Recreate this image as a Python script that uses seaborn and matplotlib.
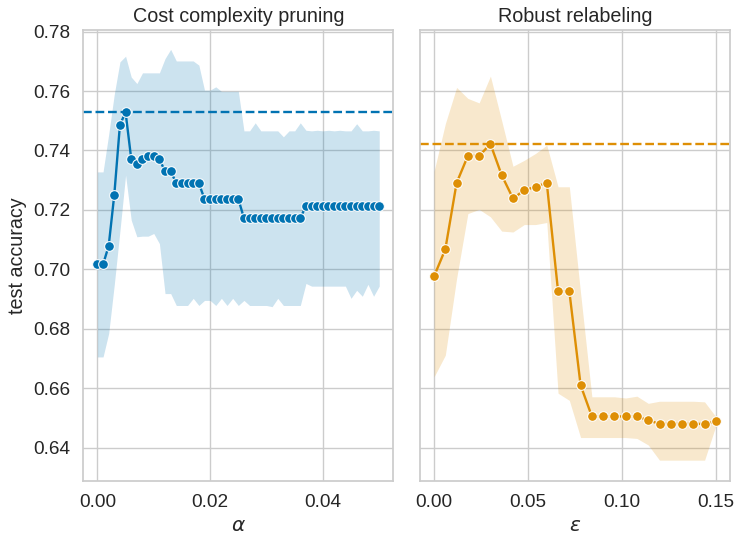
import matplotlib
matplotlib.use("Agg")
import matplotlib.pyplot as plt
import seaborn as sns

sns.set_theme(style="whitegrid", context="notebook", font_scale=1.15, palette="colorblind")
plt.rcParams['font.family'] = ['Liberation Sans', 'DejaVu Sans']
plt.rcParams['xtick.labelsize'] = 13.7
plt.rcParams['ytick.labelsize'] = 13.7

# cost complexity pruning (alpha grid)
alpha = [0.000, 0.001, 0.002, 0.003, 0.004, 0.005, 0.006, 0.007, 0.008, 0.009,
         0.010, 0.011, 0.012, 0.013, 0.014, 0.015, 0.016, 0.017, 0.018, 0.019,
         0.020, 0.021, 0.022, 0.023, 0.024, 0.025, 0.026, 0.027, 0.028, 0.029,
         0.030, 0.031, 0.032, 0.033, 0.034, 0.035, 0.036, 0.037, 0.038, 0.039,
         0.040, 0.041, 0.042, 0.043, 0.044, 0.045, 0.046, 0.047, 0.048, 0.049,
         0.050]
ccp_acc = [0.7017, 0.7017, 0.7079, 0.7252, 0.7487, 0.7528, 0.7372, 0.7356, 0.7372, 0.7382,
           0.7382, 0.7371, 0.7330, 0.7330, 0.7290, 0.7290, 0.7290, 0.7290, 0.7290, 0.7237,
           0.7237, 0.7237, 0.7237, 0.7237, 0.7237, 0.7237, 0.7173, 0.7173, 0.7173, 0.7173,
           0.7173, 0.7173, 0.7173, 0.7173, 0.7173, 0.7173, 0.7173, 0.7213, 0.7213, 0.7213,
           0.7213, 0.7213, 0.7213, 0.7213, 0.7213, 0.7213, 0.7213, 0.7213, 0.7213, 0.7213,
           0.7213]
ccp_upper = [0.7328, 0.7328, 0.7454, 0.7590, 0.7698, 0.7717, 0.7647, 0.7625, 0.7661, 0.7661,
             0.7661, 0.7661, 0.7709, 0.7740, 0.7701, 0.7701, 0.7701, 0.7701, 0.7687, 0.7603,
             0.7603, 0.7614, 0.7599, 0.7599, 0.7599, 0.7599, 0.7466, 0.7466, 0.7493, 0.7466,
             0.7466, 0.7466, 0.7466, 0.7446, 0.7466, 0.7466, 0.7493, 0.7468, 0.7466, 0.7468,
             0.7466, 0.7468, 0.7466, 0.7468, 0.7466, 0.7466, 0.7490, 0.7466, 0.7466, 0.7468,
             0.7466]
ccp_lower = [0.6706, 0.6706, 0.6785, 0.6950, 0.7130, 0.7317, 0.7166, 0.7110, 0.7112, 0.7112,
             0.7121, 0.7087, 0.6919, 0.6919, 0.6879, 0.6879, 0.6879, 0.6903, 0.6879, 0.6896,
             0.6896, 0.6879, 0.6903, 0.6879, 0.6903, 0.6879, 0.6896, 0.6879, 0.6879, 0.6879,
             0.6879, 0.6875, 0.6903, 0.6879, 0.6879, 0.6879, 0.6879, 0.6953, 0.6944, 0.6944,
             0.6944, 0.6944, 0.6944, 0.6944, 0.6944, 0.6903, 0.6930, 0.6910, 0.6950, 0.6910,
             0.6944]

# robust relabeling (epsilon grid)
eps = [0.000, 0.006, 0.012, 0.018, 0.024, 0.030, 0.036, 0.042, 0.048, 0.054,
       0.060, 0.066, 0.072, 0.078, 0.084, 0.090, 0.096, 0.102, 0.108, 0.114,
       0.120, 0.126, 0.132, 0.138, 0.144, 0.150]
rr_acc = [0.6977, 0.7068, 0.7291, 0.7382, 0.7382, 0.7422, 0.7317, 0.7239, 0.7266, 0.7278,
          0.7291, 0.6927, 0.6927, 0.6611, 0.6506, 0.6506, 0.6506, 0.6506, 0.6506, 0.6493,
          0.6481, 0.6481, 0.6481, 0.6481, 0.6481, 0.6489]
rr_upper = [0.7330, 0.7490, 0.7612, 0.7575, 0.7560, 0.7650, 0.7500, 0.7347, 0.7367, 0.7390,
            0.7418, 0.7278, 0.7278, 0.6920, 0.6572, 0.6572, 0.6572, 0.6568, 0.6574, 0.6550,
            0.6557, 0.6557, 0.6557, 0.6557, 0.6555, 0.6505]
rr_lower = [0.6639, 0.6712, 0.6970, 0.7188, 0.7202, 0.7177, 0.7129, 0.7126, 0.7151, 0.7151,
            0.7158, 0.6584, 0.6560, 0.6435, 0.6435, 0.6435, 0.6435, 0.6435, 0.6432, 0.6410,
            0.6359, 0.6359, 0.6359, 0.6359, 0.6359, 0.6475]

colors = sns.color_palette("colorblind")

fig, axes = plt.subplots(1, 2, figsize=(7.36, 5.39), dpi=100, sharey=True)
plt.subplots_adjust(left=0.1132, right=0.9918, bottom=0.1082, top=0.9443, wspace=0.086)

panels = [
    (axes[0], alpha, ccp_acc, ccp_lower, ccp_upper, colors[0], "Cost complexity pruning", r"$\alpha$"),
    (axes[1], eps, rr_acc, rr_lower, rr_upper, colors[1], "Robust relabeling", r"$\varepsilon$"),
]

for ax, x, acc, lo, hi, c, title, xlabel in panels:
    ax.fill_between(x, lo, hi, color=c, alpha=0.2, linewidth=0)
    sns.lineplot(x=x, y=acc, ax=ax, color=c, marker="o", markeredgecolor="white",
                 markersize=7, linewidth=1.7)
    ax.axhline(max(acc), color=c, linestyle="--", linewidth=1.7)
    ax.set_title(title, fontsize=14.2)
    ax.set_xlabel(xlabel, fontsize=14.5)

axes[0].set_ylabel("test accuracy", fontsize=14.2)
axes[0].set_xticks([0.00, 0.02, 0.04])
axes[1].set_xticks([0.00, 0.05, 0.10, 0.15])
axes[0].set_yticks([0.64, 0.66, 0.68, 0.70, 0.72, 0.74, 0.76, 0.78])
axes[0].set_xlim(-0.0025, 0.0525)
axes[1].set_xlim(-0.0075, 0.1575)
axes[0].set_ylim(0.629, 0.7805)

plt.savefig("out.png", dpi=100)
